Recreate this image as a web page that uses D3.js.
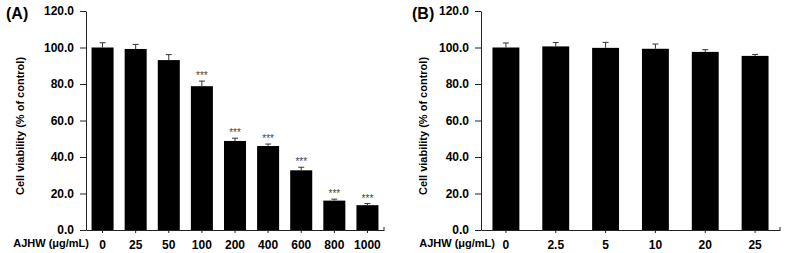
<!DOCTYPE html>
<html><head><meta charset="utf-8">
<script src="https://cdn.jsdelivr.net/npm/d3@7"></script>
<style>body{margin:0;background:#fff}svg{display:block}text{font-family:"Liberation Sans",Arial,sans-serif;font-weight:bold}</style>
</head><body>
<svg id="c" width="785" height="253"></svg>
<script>
const catsA = ["0","25","50","100","200","400","600","800","1000"];
const valsA = [100, 99.2, 93.1, 78.8, 48.8, 46.0, 32.7, 16.1, 13.6];
const errA  = [2.6, 2.5, 3.0, 2.8, 1.5, 1.1, 1.7, 0.8, 0.9];
const sigA  = ["","","","***","***","***","***","***","***"];
const catsB = ["0","2.5","5","10","20","25"];
const valsB = [100, 100.6, 99.8, 99.3, 97.6, 95.4];
const errB  = [2.5, 2.1, 3.0, 2.6, 1.2, 0.8];
const yTicks = [0,20,40,60,80,100,120];
const panelLabels = ["(A)","(B)"];
const xTitle = "AJHW (μg/mL)";
const yTitle = "Cell viability (% of control)";

const svg = d3.select("#c");

function panel(o){
  const g = svg.append("g");
  const y = d3.scaleLinear().domain([0,120]).range([230,11]);
  const x = d3.scaleBand().domain(o.cats).range([o.x0,o.x1]).paddingInner(o.pad).paddingOuter(o.pad/2);
  g.selectAll("rect.bar").data(o.vals).enter().append("rect")
    .attr("x",(d,i)=>x(o.cats[i])).attr("width",x.bandwidth())
    .attr("y",d=>y(d)).attr("height",d=>y(0)-y(d)).attr("fill","#000");
  const eb = g.selectAll("g.eb").data(o.vals).enter().append("g").attr("stroke","#333").attr("stroke-width",1);
  eb.append("line").attr("x1",(d,i)=>x(o.cats[i])+x.bandwidth()/2).attr("x2",(d,i)=>x(o.cats[i])+x.bandwidth()/2)
    .attr("y1",d=>y(d)).attr("y2",(d,i)=>y(d+o.err[i]));
  eb.append("line").attr("x1",(d,i)=>x(o.cats[i])+x.bandwidth()/2-3).attr("x2",(d,i)=>x(o.cats[i])+x.bandwidth()/2+3)
    .attr("y1",(d,i)=>y(d+o.err[i])).attr("y2",(d,i)=>y(d+o.err[i]));
  if(o.sig){
    g.selectAll("text.sig").data(o.vals).enter().append("text")
      .attr("x",(d,i)=>x(o.cats[i])+x.bandwidth()/2).attr("y",(d,i)=>y(d+o.err[i])-2)
      .attr("text-anchor","middle").attr("fill","#444").style("font-size","10px").style("font-weight","normal")
      .text((d,i)=>o.sig[i]);
  }
  const ya = g.append("g").attr("transform",`translate(${o.x0},0)`)
    .call(d3.axisLeft(y).tickValues(yTicks).tickFormat(d3.format(".1f")).tickSizeInner(6).tickSizeOuter(0).tickPadding(6));
  ya.select(".domain").attr("stroke","#222");
  ya.selectAll(".tick line").attr("stroke","#222");
  ya.selectAll("text").style("font-size","12px").attr("fill","#000").style("font-family","'Liberation Sans',Arial,sans-serif").style("font-weight","bold");
  const xa = g.append("g").attr("transform",`translate(0,${y(0)})`)
    .call(d3.axisBottom(x).tickSizeInner(3).tickSizeOuter(0).tickPadding(7));
  xa.select(".domain").attr("stroke","#222");
  xa.selectAll(".tick line").attr("stroke","#222");
  xa.selectAll("text").style("font-size","12px").attr("fill","#000").style("font-family","'Liberation Sans',Arial,sans-serif").style("font-weight","bold");
  g.append("line").attr("x1",o.x1).attr("x2",o.x1).attr("y1",y(0)).attr("y2",y(0)-3).attr("stroke","#222");
  g.append("text").attr("x",o.xtEnd).attr("y",247).attr("text-anchor","end").style("font-size","11px").text(xTitle);
  g.append("text").attr("transform",`translate(${o.ytX},126) rotate(-90)`).attr("text-anchor","middle")
    .attr("dy","0.35em").style("font-size","11px").text(yTitle);
  g.append("text").attr("x",o.plX).attr("y",19).style("font-size","16px").text(o.label);
}

panel({cats:catsA, vals:valsA, err:errA, sig:sigA, x0:86, x1:384, pad:0.335, xtEnd:89, ytX:20, plX:6, label:panelLabels[0]});
panel({cats:catsB, vals:valsB, err:errB, sig:null, x0:481, x1:780, pad:0.46, xtEnd:495, ytX:423, plX:412, label:panelLabels[1]});
</script>
</body></html>
